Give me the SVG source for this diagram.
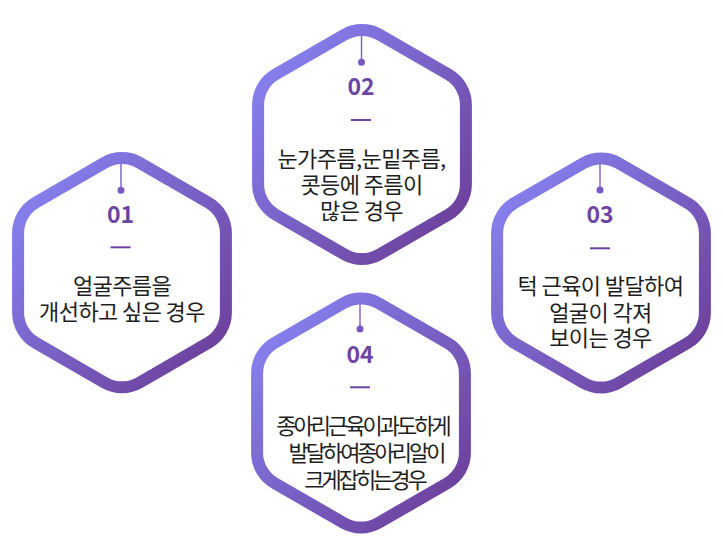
<svg xmlns="http://www.w3.org/2000/svg" xmlns:xlink="http://www.w3.org/1999/xlink" width="723" height="559" viewBox="0 0 723 559">
  <defs>
    <linearGradient id="hexGrad" x1="0" y1="0" x2="1" y2="1">
      <stop offset="0" stop-color="#8888F8"/>
      <stop offset="1" stop-color="#6A3992"/>
    </linearGradient>
    <path id="hex" d="M17.5,-109.9 L86.4,-70.1 A35,35 0 0 1 103.9,-39.8 L103.9,39.8 A35,35 0 0 1 86.4,70.1 L17.5,109.9 A35,35 0 0 1 -17.5,109.9 L-86.4,70.1 A35,35 0 0 1 -103.9,39.8 L-103.9,-39.8 A35,35 0 0 1 -86.4,-70.1 L-17.5,-109.9 A35,35 0 0 1 17.5,-109.9 Z"/>
    <style>
      .hexshape { fill: #ffffff; stroke: url(#hexGrad); stroke-width: 12; }
      .tick { stroke: #7A5CCB; stroke-width: 1.4; }
      .dot { fill: #7A58C4; }
      .num { font-family: "Noto Sans CJK KR", "Noto Sans", sans-serif; font-weight: 700; font-size: 23px; fill: #6C45A3; text-anchor: middle; }
      .dash { stroke: #6C45A3; stroke-width: 2; }
      .body { font-family: "Noto Sans CJK KR", "Noto Sans", sans-serif; font-size: 22px; fill: #1e1e1e; text-anchor: middle; letter-spacing: -0.6px; }
      .tight { letter-spacing: -3px; }
    </style>
  </defs>

  <g id="node-01">
    <use xlink:href="#hex" href="#hex" class="hexshape" transform="translate(122,272.7)"/>
    <line class="tick" x1="121" y1="164" x2="121" y2="190"/>
    <circle class="dot" cx="121" cy="190.3" r="3.5"/>
    <text class="num" x="120.5" y="222.5">01</text>
    <line class="dash" x1="110.5" y1="247.3" x2="130.5" y2="247.3"/>
    <text class="body" x="122" y="293.5">얼굴주름을</text>
    <text class="body" x="122" y="320">개선하고 싶은 경우</text>
  </g>

  <g id="node-02">
    <use xlink:href="#hex" href="#hex" class="hexshape" transform="translate(362,144.5)"/>
    <line class="tick" x1="361.5" y1="36" x2="361.5" y2="62"/>
    <circle class="dot" cx="361.5" cy="62.3" r="3.5"/>
    <text class="num" x="361" y="94.5">02</text>
    <line class="dash" x1="351" y1="120" x2="371" y2="120"/>
    <text class="body" x="361.5" y="166.5">눈가주름,눈밑주름,</text>
    <text class="body" x="361.5" y="192.5">콧등에 주름이</text>
    <text class="body" x="361.5" y="218.5">많은 경우</text>
  </g>

  <g id="node-03">
    <use xlink:href="#hex" href="#hex" class="hexshape" transform="translate(601,273)"/>
    <line class="tick" x1="600" y1="164.5" x2="600" y2="190"/>
    <circle class="dot" cx="600" cy="190" r="3.5"/>
    <text class="num" x="600" y="223">03</text>
    <line class="dash" x1="590" y1="248.3" x2="610" y2="248.3"/>
    <text class="body" x="600.5" y="293.5">턱 근육이 발달하여</text>
    <text class="body" x="600.5" y="320.5">얼굴이 각져</text>
    <text class="body" x="600.5" y="346">보이는 경우</text>
  </g>

  <g id="node-04">
    <use xlink:href="#hex" href="#hex" class="hexshape" transform="translate(361,413)"/>
    <line class="tick" x1="360" y1="304.5" x2="360" y2="329"/>
    <circle class="dot" cx="360" cy="329" r="3.5"/>
    <text class="num" x="360" y="362.5">04</text>
    <line class="dash" x1="350" y1="387.3" x2="370" y2="387.3"/>
    <text class="body tight" x="362.5" y="433.5">종아리근육이과도하게</text>
    <text class="body tight" x="366" y="460.5">발달하여종아리알이</text>
    <text class="body tight" x="364.5" y="487.5">크게잡히는경우</text>
  </g>
</svg>
